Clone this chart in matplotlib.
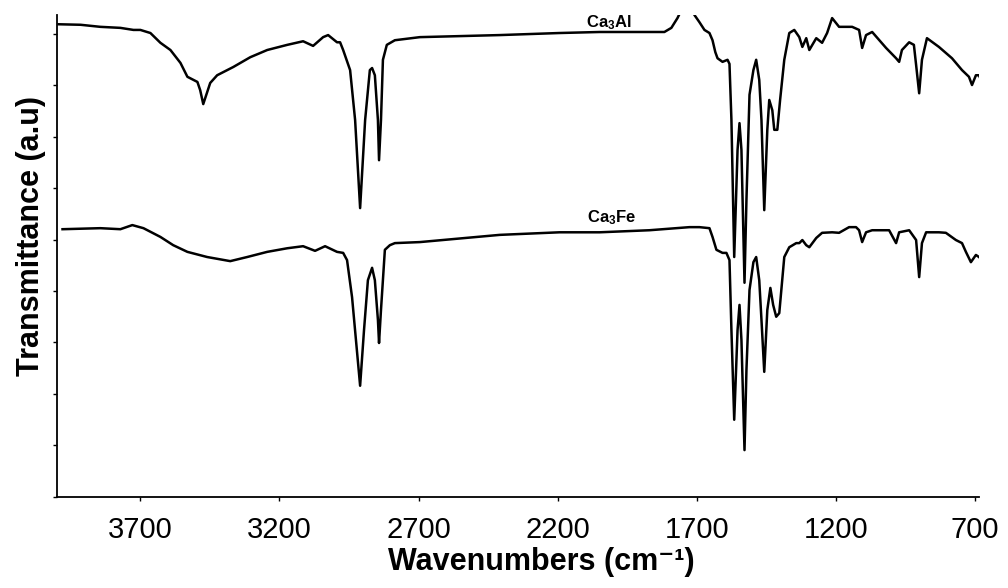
import matplotlib
matplotlib.use("Agg")
import matplotlib.pyplot as plt

plt.rcParams["font.family"] = ["Liberation Sans", "DejaVu Sans"]
plt.rcParams["mathtext.default"] = "regular"

# Ca3Al spectrum (wavenumber, transmittance a.u.)
al_wn = [3994, 3915, 3844, 3772, 3725, 3700, 3664, 3628, 3592, 3556, 3531, 3495,
         3485, 3474, 3449, 3424, 3366, 3305, 3244, 3172, 3115, 3079, 3043, 3025,
         2993, 2982, 2971, 2946, 2928, 2910, 2892, 2875, 2867, 2857, 2846, 2842,
         2835, 2828, 2814, 2785, 2695, 2408, 2193, 2049, 1906, 1816, 1791, 1769,
         1751, 1733, 1715, 1708, 1690, 1672, 1654, 1643, 1633, 1625, 1607, 1589,
         1582, 1575, 1565, 1553, 1546, 1539, 1528, 1521, 1510, 1496, 1486, 1475,
         1467, 1457, 1446, 1439, 1428, 1421, 1410, 1400, 1385, 1367, 1349, 1331,
         1320, 1306, 1295, 1270, 1249, 1231, 1213, 1188, 1141, 1116, 1105, 1091,
         1069, 1019, 983, 972, 962, 936, 919, 911, 900, 890, 872, 829, 782, 746,
         721, 710, 696, 685, 678]
al_t = [9.18, 9.17, 9.13, 9.11, 9.07, 9.07, 9.01, 8.82, 8.68, 8.43, 8.16, 8.06,
        7.90, 7.63, 8.04, 8.19, 8.35, 8.54, 8.68, 8.78, 8.85, 8.76, 8.93, 8.97,
        8.83, 8.83, 8.68, 8.29, 7.32, 5.61, 7.32, 8.29, 8.33, 8.19, 7.32, 6.54,
        7.32, 8.49, 8.78, 8.87, 8.93, 8.97, 9.01, 9.03, 9.03, 9.03, 9.11, 9.30,
        9.50, 9.90, 9.50, 9.36, 9.22, 9.07, 9.01, 8.87, 8.64, 8.52, 8.45, 8.49,
        8.41, 7.32, 4.66, 6.74, 7.26, 6.74, 4.16, 5.77, 7.81, 8.29, 8.49, 8.10,
        7.32, 5.57, 7.13, 7.71, 7.51, 7.13, 7.13, 7.71, 8.49, 9.01, 9.07, 8.93,
        8.74, 8.91, 8.68, 8.91, 8.82, 9.01, 9.30, 9.13, 9.13, 9.07, 8.72, 8.97,
        9.03, 8.72, 8.52, 8.45, 8.68, 8.83, 8.78, 8.39, 7.84, 8.49, 8.91, 8.74,
        8.52, 8.29, 8.16, 8.00, 8.19, 8.19, 8.10]

# Ca3Fe spectrum
fe_wn = [3980, 3844, 3772, 3729, 3689, 3628, 3582, 3531, 3460, 3377, 3316, 3244,
         3172, 3115, 3072, 3036, 2993, 2971, 2957, 2939, 2925, 2910, 2896, 2882,
         2867, 2857, 2846, 2842, 2835, 2821, 2803, 2785, 2695, 2408, 2193, 2049,
         1870, 1726, 1690, 1654, 1643, 1629, 1607, 1593, 1582, 1575, 1565, 1553,
         1546, 1539, 1528, 1521, 1510, 1496, 1486, 1475, 1467, 1457, 1446, 1435,
         1425, 1414, 1403, 1385, 1367, 1342, 1331, 1320, 1306, 1295, 1270, 1249,
         1213, 1188, 1152, 1127, 1116, 1105, 1091, 1069, 1008, 983, 972, 936,
         911, 900, 890, 875, 829, 804, 768, 746, 732, 714, 696, 685, 674]
fe_t = [5.20, 5.22, 5.20, 5.28, 5.22, 5.05, 4.89, 4.76, 4.66, 4.58, 4.66, 4.76,
        4.83, 4.87, 4.78, 4.87, 4.76, 4.74, 4.60, 3.88, 3.05, 2.16, 3.24, 4.21,
        4.45, 4.21, 3.44, 2.99, 3.63, 4.80, 4.89, 4.93, 4.95, 5.09, 5.14, 5.14,
        5.18, 5.24, 5.24, 5.22, 5.05, 4.80, 4.74, 4.74, 4.60, 3.24, 1.50, 3.24,
        3.73, 3.05, 0.91, 2.47, 4.02, 4.56, 4.66, 4.21, 3.44, 2.43, 3.63, 4.06,
        3.73, 3.50, 3.57, 4.66, 4.85, 4.93, 4.93, 4.99, 4.89, 4.85, 5.03, 5.13,
        5.14, 5.13, 5.24, 5.24, 5.18, 4.95, 5.14, 5.18, 5.18, 4.93, 5.14, 5.18,
        4.99, 4.27, 4.93, 5.14, 5.14, 5.13, 4.99, 4.93, 4.76, 4.56, 4.70, 4.66, 4.60]

x_ticks = [3700, 3200, 2700, 2200, 1700, 1200, 700]
y_ticks = [0, 1, 2, 3, 4, 5, 6, 7, 8, 9]

fig = plt.figure(figsize=(10.08, 5.88), dpi=100)
ax = fig.add_axes([0.0565, 0.1548, 0.9147, 0.8197])

ax.plot(al_wn, al_t, color="black", lw=1.8)
ax.plot(fe_wn, fe_t, color="black", lw=1.8)

ax.text(2017, 9.22, r"Ca$_3$Al", fontsize=12, fontweight="bold", ha="center", va="center")
ax.text(2006, 5.42, r"Ca$_3$Fe", fontsize=12, fontweight="bold", ha="center", va="center")

ax.set_xlim(4000, 685)
ax.set_ylim(0, 9.36)
ax.set_xticks(x_ticks)
ax.set_yticks(y_ticks)
ax.set_yticklabels([])
ax.tick_params(axis="x", direction="out", length=3, width=1, labelsize=21, pad=11)
ax.tick_params(axis="y", direction="out", length=3, width=1)

for side in ["top", "right"]:
    ax.spines[side].set_visible(False)
for side in ["left", "bottom"]:
    ax.spines[side].set_linewidth(1.3)

ax.set_xlabel("Wavenumbers (cm⁻¹)", fontsize=22, fontweight="bold")
ax.set_ylabel("Transmittance (a.u)", fontsize=22, fontweight="bold")
ax.xaxis.set_label_coords(0.525, -0.103)
ax.yaxis.set_label_coords(-0.012, 0.541)

fig.savefig("out.png", dpi=100)
